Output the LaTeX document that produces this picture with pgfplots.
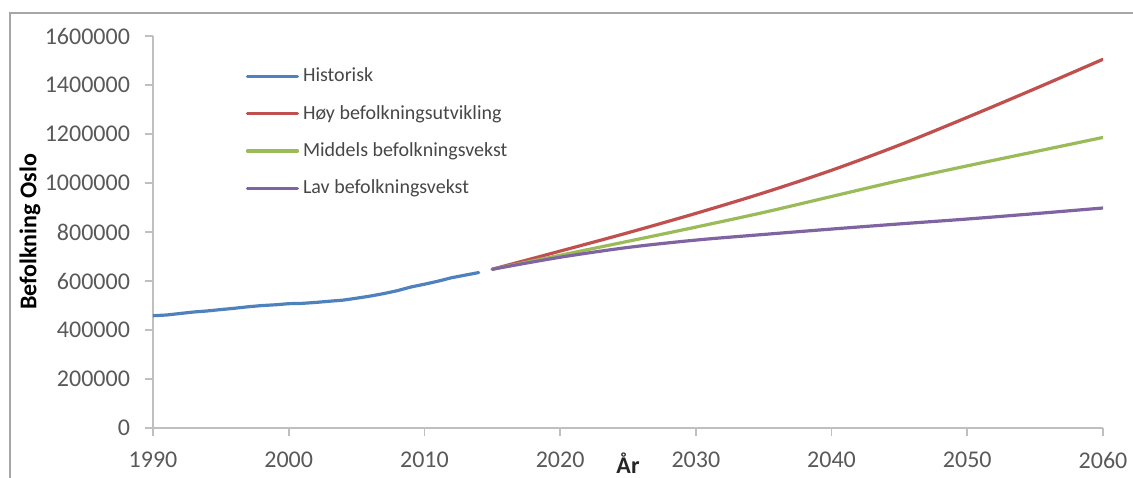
\documentclass[border=0pt]{standalone}
\usepackage{pgfplots}
\pgfplotsset{compat=1.18}
\usepackage{fontspec}
\setmainfont{Carlito}
\definecolor{chist}{HTML}{4F81BD}
\definecolor{chigh}{HTML}{C0504D}
\definecolor{cmid}{HTML}{9BBB59}
\definecolor{clow}{HTML}{8064A2}
\definecolor{axgray}{HTML}{BFBFBF}
\definecolor{txtgray}{HTML}{595959}
\definecolor{framegray}{HTML}{A6A6A6}
\begin{document}
\begin{tikzpicture}
\useasboundingbox (-76.5pt,-24.5pt) rectangle (490pt,214pt);
\draw[color=framegray, line width=1pt] (-71.5pt,-40pt) -- (-71.5pt,207.5pt) -- (500pt,207.5pt);
\begin{axis}[
  at={(0pt,0pt)}, anchor=south west,
  scale only axis, width=475pt, height=196pt,
  xmin=1990, xmax=2060, ymin=0, ymax=1600000,
  axis lines=left,
  axis line style={-, draw=axgray, line width=0.9pt},
  xtick={1990,2000,...,2060},
  ytick={0,200000,...,1600000},
  tick align=outside,
  tick style={draw=axgray, line width=0.9pt},
  major tick length=4pt,
  scaled y ticks=false,
  /pgf/number format/assume math mode=true,
  /pgf/number format/1000 sep={},
  /pgf/number format/fixed,
  ticklabel style={font=\fontsize{12}{14}\selectfont, text=txtgray},
  xticklabel style={yshift=-4.5pt},
  yticklabel style={xshift=-4pt},
  ylabel={Befolkning Oslo},
  ylabel style={at={(rel axis cs:0,0.5)}, anchor=center, yshift=61.5pt, font=\fontsize{12}{14}\selectfont\bfseries, text=black},
  xlabel={År},
  xlabel style={at={(rel axis cs:0.5,0)}, anchor=north, yshift=-9pt, font=\fontsize{12}{14}\selectfont\bfseries, text=black!85},
  legend cell align=left,
  legend style={at={(rel axis cs:0.091,0.94)}, anchor=north west, draw=none, fill=none,
    font=\fontsize{10}{12}\selectfont, text=txtgray!80!black, row sep=6.2pt,
    /tikz/every even column/.append style={column sep=0pt}},
  legend image code/.code={\draw[#1] (0pt,0pt) -- (25pt,0pt);},
  every axis plot/.append style={line width=1.6pt, line cap=round},
]
\addplot[chist] coordinates {
(1990,458364) (1991,461190) (1992,467441) (1993,473454) (1994,477781)
(1995,483401) (1996,488659) (1997,494793) (1998,499693) (1999,502867)
(2000,507467) (2001,508726) (2002,512589) (2003,517401) (2004,521886)
(2005,529846) (2006,538411) (2007,548617) (2008,560484) (2009,575475)
(2010,586860) (2011,599230) (2012,613285) (2013,623966) (2014,634463)
};
\addlegendentry{Historisk}
\addplot[chigh, smooth] coordinates {
(2015,648000) (2020,722000) (2025,797000) (2030,876000) (2035,960000)
(2040,1052000) (2045,1155000) (2050,1268000) (2055,1385000) (2060,1505000)
};
\addlegendentry{Høy befolkningsutvikling}
\addplot[cmid, smooth] coordinates {
(2015,648000) (2020,705000) (2025,762000) (2030,820000) (2035,880000)
(2040,945000) (2045,1010000) (2050,1070000) (2055,1128000) (2060,1186000)
};
\addlegendentry{Middels befolkningsvekst}
\addplot[clow, smooth] coordinates {
(2015,648000) (2020,697000) (2025,737000) (2030,767000) (2035,790000)
(2040,812000) (2045,833000) (2050,853000) (2055,875000) (2060,898000)
};
\addlegendentry{Lav befolkningsvekst}
\end{axis}
\end{tikzpicture}
\end{document}
